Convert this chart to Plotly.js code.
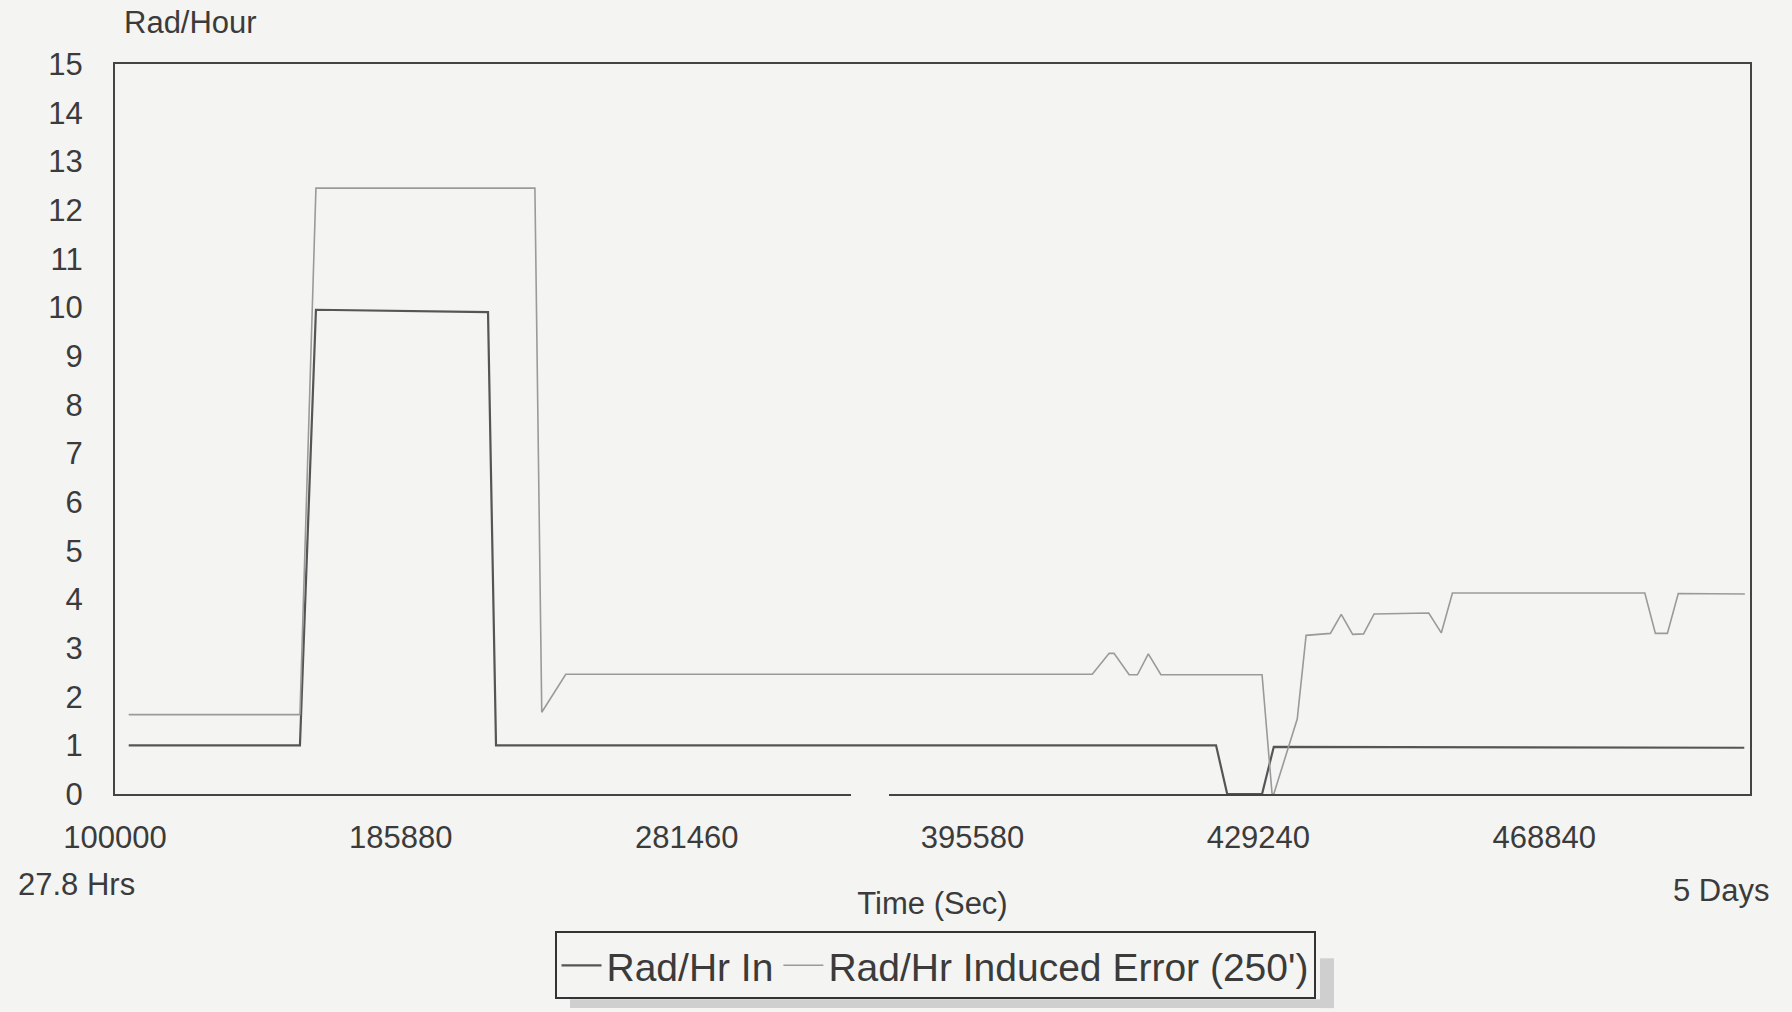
<!DOCTYPE html>
<html>
<head>
<meta charset="utf-8">
<script src="https://cdn.plot.ly/plotly-3.0.1.min.js"></script>
<style>
  html, body { margin: 0; padding: 0; background: #f4f4f2; }
  #chart { width: 1792px; height: 1012px; }
</style>
</head>
<body>
<div id="chart"></div>
<script>
// X axis: tick labels (equally spaced sample times, seconds)
const xTickLabels = ['100000', '185880', '281460', '395580', '429240', '468840'];
const xTickPos = [0, 1, 2, 3, 4, 5];

// Series 1: Rad/Hr In (positions in tick-interval units along the time axis)
const radInPos  = [0.048, 0.647, 0.703, 1.305, 1.333, 3.852, 3.891, 4.013, 4.054, 5.700];
const radInVals = [1.0,   1.0,   9.95,  9.9,   1.0,   1.0,   0.0,   0.0,   0.97,  0.95];

// Series 2: Rad/Hr Induced Error (250')
const errPos  = [0.048, 0.647, 0.703, 1.469, 1.493, 1.577, 3.419, 3.478, 3.495, 3.548, 3.577, 3.615, 3.659,
                 4.013, 4.048, 4.054, 4.136, 4.167, 4.252, 4.290, 4.330, 4.368, 4.405, 4.596, 4.640, 4.679,
                 5.352, 5.389, 5.431, 5.469, 5.702];
const errVals = [1.63,  1.63,  12.45, 12.45, 1.68,  2.46,  2.46,  2.89,  2.89,  2.45,  2.45,  2.88,  2.45,
                 2.45,  0.0,   0.0,   1.54,  3.26,  3.30,  3.69,  3.28,  3.29,  3.70,  3.72,  3.31,  4.13,
                 4.13,  3.30,  3.30,  4.12,  4.11];

const seriesNames = ['Rad/Hr In', "Rad/Hr Induced Error (250')"];

const FONT = 'Liberation Sans, Arial, Helvetica, sans-serif';
const TXT = '#3b3b3b';
const BG = '#f4f4f2';

// plot-area geometry (pixels)
const L = 115, R = 42, T = 64, B = 215;
const W = 1792 - L - R, H = 1012 - T - B;
const px = x => (x - L) / W;            // page x -> paper x
const py = y => (1012 - B - y) / H;      // page y -> paper y

const traces = [
  { x: radInPos, y: radInVals, name: seriesNames[0], type: 'scatter', mode: 'lines',
    line: { color: '#555555', width: 2.2 } },
  { x: errPos, y: errVals, name: seriesNames[1], type: 'scatter', mode: 'lines',
    line: { color: '#9a9a9a', width: 1.6 } }
];

const layout = {
  width: 1792, height: 1012,
  paper_bgcolor: BG, plot_bgcolor: BG,
  margin: { l: L, r: R, t: T, b: B },
  font: { family: FONT, color: TXT, size: 31 },
  showlegend: true,
  legend: {
    orientation: 'h', x: px(935), xanchor: 'center', y: py(935), yanchor: 'top',
    bgcolor: 'rgba(0,0,0,0)', bordercolor: '#333333', borderwidth: 2,
    font: { family: FONT, size: 39, color: TXT }, itemwidth: 40, tracegroupgap: 0
  },
  xaxis: {
    range: [0, 5.72], tickvals: xTickPos, ticktext: xTickLabels,
    showgrid: false, zeroline: false, showline: true, mirror: true,
    linecolor: '#444444', linewidth: 2, ticks: '', ticklabelstandoff: 15,
    tickfont: { family: FONT, size: 31, color: TXT },
    title: { text: 'Time (Sec)', font: { family: FONT, size: 31, color: TXT }, standoff: 38 }
  },
  yaxis: {
    range: [0, 15], dtick: 1, tick0: 0,
    showgrid: false, zeroline: false, showline: true, mirror: true,
    linecolor: '#444444', linewidth: 2, ticks: '', ticklabelstandoff: 24,
    tickfont: { family: FONT, size: 31, color: TXT }
  },
  annotations: [
    { text: 'Rad/Hour', xref: 'paper', yref: 'paper', x: px(122), y: py(22),
      xanchor: 'left', yanchor: 'middle', showarrow: false, font: { family: FONT, size: 31, color: TXT } },
    { text: '27.8 Hrs', xref: 'paper', yref: 'paper', x: px(16), y: py(888),
      xanchor: 'left', yanchor: 'middle', showarrow: false, font: { family: FONT, size: 31, color: TXT } },
    { text: '5 Days', xref: 'paper', yref: 'paper', x: px(1771), y: py(894),
      xanchor: 'right', yanchor: 'middle', showarrow: false, font: { family: FONT, size: 31, color: TXT } }
  ],
  shapes: [
    // break in the bottom axis line seen in the scan
    { type: 'rect', xref: 'paper', yref: 'paper', x0: px(851), x1: px(889),
      y0: py(803), y1: py(793), fillcolor: BG, line: { width: 0 }, layer: 'above' },
    // scan shadow beneath the legend box
    { type: 'rect', xref: 'paper', yref: 'paper', x0: px(570), x1: px(1334),
      y0: py(1012), y1: py(1003), fillcolor: '#cfcfcf', line: { width: 0 }, layer: 'below' },
    { type: 'rect', xref: 'paper', yref: 'paper', x0: px(1320), x1: px(1334),
      y0: py(1012), y1: py(962), fillcolor: '#cfcfcf', line: { width: 0 }, layer: 'below' }
  ]
};

Plotly.newPlot('chart', traces, layout, { staticPlot: true, displayModeBar: false });
</script>
</body>
</html>
